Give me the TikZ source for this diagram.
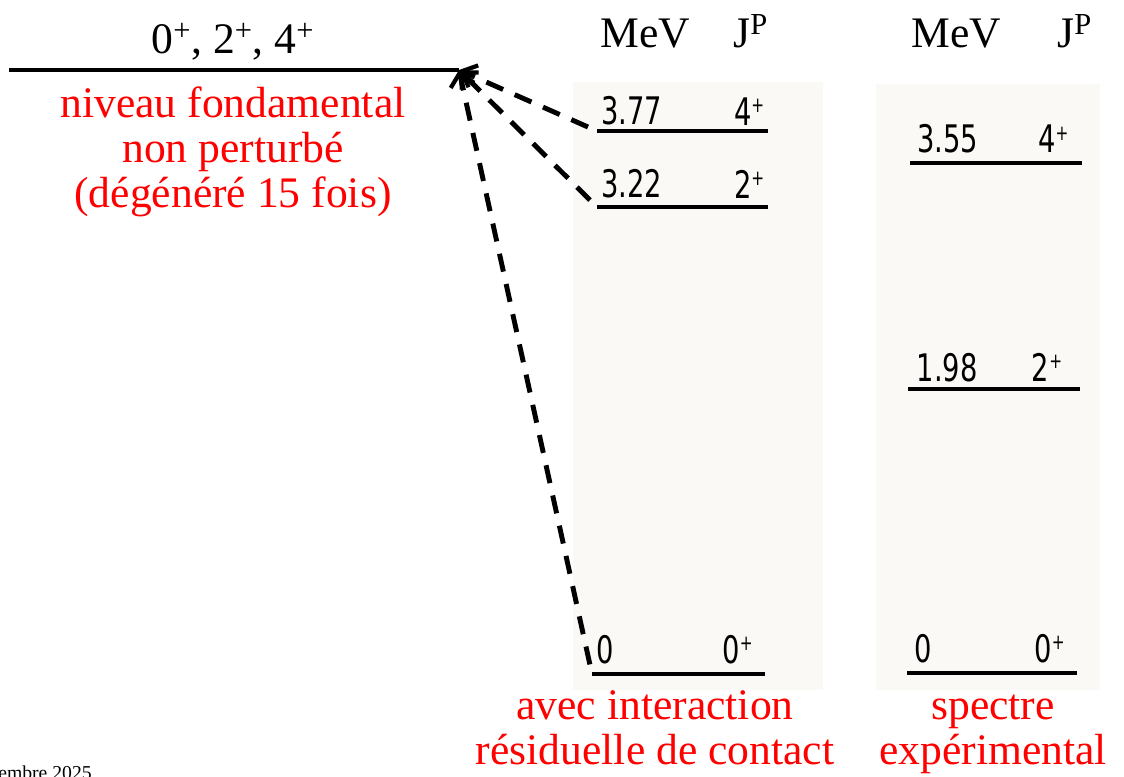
\documentclass[tikz,border=0pt]{standalone}
\usepackage{fontspec}
\setmainfont{Liberation Serif}
\newfontfamily\lvlfont[FakeStretch=0.8]{DejaVu Sans Condensed}
\usetikzlibrary{arrows.meta,positioning,calc}
\definecolor{scanpaper}{RGB}{251,249,245}
\newcommand{\pplus}{\textsuperscript{\scalebox{0.8}{+}}}

\begin{document}
\begin{tikzpicture}[x=0.025cm,y=-0.025cm]
	\tikzset{grand/.style={font=\fontsize{31}{32}\selectfont,inner sep=0pt,align=center},
		rougetxt/.style={grand,text=red},
		niveau/.style={line width=2.2pt},
		lvl/.style={font=\lvlfont\fontsize{27}{27}\selectfont,inner sep=0pt},
		fleche/.style={line width=3.5pt,dash pattern=on 13pt off 9pt,shorten <=7pt,
			-{Straight Barb[length=9pt,width=17pt,line width=3pt]}}}
	\useasboundingbox (0,0) rectangle (1124,776);
	\clip (0,0) rectangle (1124,776);
	\fill[scanpaper] (573,82) rectangle (823,690);
	\fill[scanpaper] (876,84) rectangle (1100,690);
	% niveau non perturbe
	\coordinate (fondG) at (9,70);
	\coordinate (fondD) at (459,70);
	\draw[line width=3.5pt] (fondG) -- (fondD);
	\node[grand,anchor=base] (spins) at (233,53) {0\textsuperscript{+}, 2\textsuperscript{+}, 4\textsuperscript{+}};
	\node[rougetxt,anchor=base] (fondtxt) at (233,207) {niveau fondamental\\non perturbé\\(dégénéré 15 fois)};
	% calcul
	\node[grand,anchor=base west] (mevA) at (600,47) {MeV};
	\node[grand,anchor=base west] (jpA) at (733,47) {J\textsuperscript{P}};
	\coordinate (a377) at (597,131);
	\coordinate (a322) at (597,207);
	\coordinate (a0) at (592,674);
	\draw[niveau] (a377) -- ++(171,0) coordinate (b377);
	\draw[niveau] (a322) -- ++(171,0) coordinate (b322);
	\draw[niveau] (a0) -- ++(173,0) coordinate (b0);
	\node[lvl,above right=4pt and 3pt of a377] (e377) {3.77};
	\node[lvl,above left=4pt and 2pt of b377] (j377) {4\pplus};
	\node[lvl,above right=6pt and 3pt of a322] (e322) {3.22};
	\node[lvl,above left=6pt and 2pt of b322] (j322) {2\pplus};
	\node[lvl,above right=7pt and 3pt of a0] (e0) {0};
	\node[lvl,above left=7pt and 8pt of b0] (j0) {0\pplus};
	\draw[fleche] (a377) -- (fondD);
	\draw[fleche] (a322) -- (fondD);
	\draw[fleche] (a0) -- (fondD);
	\node[rougetxt,anchor=base] (calctxt) at (655,764) {avec interaction\\résiduelle de contact};
	% experience
	\node[grand,anchor=base west] (mevB) at (911,47) {MeV};
	\node[grand,anchor=base west] (jpB) at (1057,47) {J\textsuperscript{P}};
	\coordinate (x355) at (910,163);
	\coordinate (x198) at (908,389);
	\coordinate (x0) at (907,673);
	\draw[niveau] (x355) -- ++(172,0) coordinate (y355);
	\draw[niveau] (x198) -- ++(172,0) coordinate (y198);
	\draw[niveau] (x0) -- ++(170,0) coordinate (y0);
	\node[lvl,above right=7pt and 5pt of x355] (e355) {3.55};
	\node[lvl,above left=7pt and 9pt of y355] (j355) {4\pplus};
	\node[lvl,above right=5pt and 6pt of x198] (e198) {1.98};
	\node[lvl,above left=5pt and 12pt of y198] (j198) {2\pplus};
	\node[lvl,above right=7pt and 5pt of x0] (ex0) {0};
	\node[lvl,above left=7pt and 8pt of y0] (jx0) {0\pplus};
	\node[rougetxt,anchor=base] (exptxt) at (993,764) {spectre\\expérimental};
	\node[anchor=base west,inner sep=0pt,font=\fontsize{14}{14}\selectfont] (date) at (-2,779) {embre 2025};
\end{tikzpicture}
\end{document}
